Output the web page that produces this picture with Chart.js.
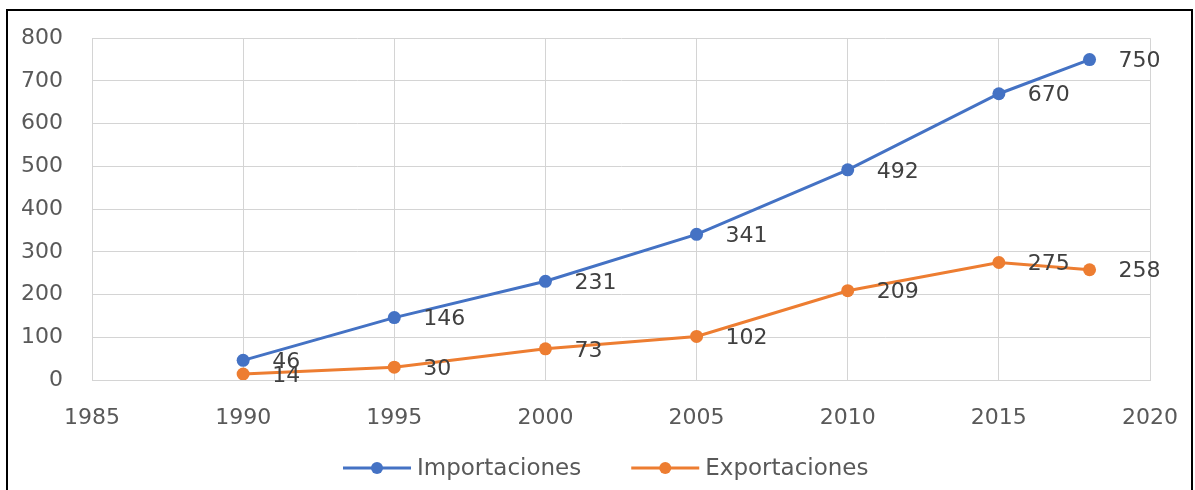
<!DOCTYPE html>
<html>
<head>
<meta charset="utf-8">
<script src="https://cdn.jsdelivr.net/npm/chart.js@4.4.1/dist/chart.umd.min.js"></script>
<style>
  html, body { margin: 0; padding: 0; background: #fff; }
  #wrap { position: relative; width: 1195px; height: 490px; overflow: hidden; background: #fff; }
  #frame {
    position: absolute; left: 6px; top: 9px; width: 1187px; height: 500px;
    border: 2px solid #000; box-sizing: border-box; pointer-events: none;
  }
  /* canvas is a little larger than the page; the overflow is clipped */
  #myChart { position: absolute; left: 0; top: -4px; }
</style>
</head>
<body>
<div id="wrap">
  <canvas id="myChart" width="1203" height="494"></canvas>
  <div id="frame"></div>
</div>
<script>
const years = [1990, 1995, 2000, 2005, 2010, 2015, 2018];
const importaciones = [46, 146, 231, 341, 492, 670, 750];
const exportaciones = [14, 30, 73, 102, 209, 275, 258];
const seriesNames = ["Importaciones", "Exportaciones"];
const seriesColors = ["#4472C4", "#ED7D31"];

const xMin = 1985, xMax = 2020, xStep = 5;
const yMin = 0, yMax = 800, yStep = 100;

const FONT = "'DejaVu Sans', sans-serif";

function toPoints(values) {
  return years.map((y, i) => ({ x: y, y: values[i] }));
}

// value labels to the right of each marker, plus the line/marker legend below
const labelsPlugin = {
  id: "valueLabels",
  afterDatasetsDraw(chart) {
    const ctx = chart.ctx;
    ctx.save();
    ctx.font = "22px " + FONT;
    ctx.fillStyle = "#404040";
    ctx.textAlign = "left";
    ctx.textBaseline = "middle";
    chart.data.datasets.forEach((ds, di) => {
      const meta = chart.getDatasetMeta(di);
      meta.data.forEach((pt, i) => {
        ctx.fillText(String(ds.data[i].y), pt.x + 29, pt.y + 2);
      });
    });
    ctx.restore();
  },
  afterDraw(chart) {
    const ctx = chart.ctx;
    ctx.save();
    ctx.font = "23px " + FONT;
    const lineLen = 68, gapText = 6, gapItem = 50;
    let x = 343;
    const y = 472;
    seriesNames.forEach((name, i) => {
      ctx.strokeStyle = seriesColors[i];
      ctx.lineWidth = 3;
      ctx.beginPath();
      ctx.moveTo(x, y);
      ctx.lineTo(x + lineLen, y);
      ctx.stroke();
      ctx.fillStyle = seriesColors[i];
      ctx.beginPath();
      ctx.arc(x + lineLen / 2, y, 6, 0, Math.PI * 2);
      ctx.fill();
      ctx.fillStyle = "#595959";
      ctx.textAlign = "left";
      ctx.textBaseline = "middle";
      ctx.fillText(name, x + lineLen + gapText, y + 1);
      x += lineLen + gapText + ctx.measureText(name).width + gapItem;
    });
    ctx.restore();
  },
};

function createChart() {
  const ctx = document.getElementById("myChart").getContext("2d");
  new Chart(ctx, {
    type: "line",
    data: {
      datasets: [
        {
          label: seriesNames[0],
          data: toPoints(importaciones),
          borderColor: seriesColors[0],
          backgroundColor: seriesColors[0],
          borderWidth: 3,
          pointRadius: 6.5,
          pointBorderWidth: 0,
          tension: 0,
        },
        {
          label: seriesNames[1],
          data: toPoints(exportaciones),
          borderColor: seriesColors[1],
          backgroundColor: seriesColors[1],
          borderWidth: 3,
          pointRadius: 6.5,
          pointBorderWidth: 0,
          tension: 0,
        },
      ],
    },
    options: {
      responsive: false,
      animation: false,
      layout: { padding: 0 },
      plugins: {
        legend: { display: false },
        tooltip: { enabled: false },
      },
      scales: {
        x: {
          type: "linear",
          min: xMin,
          max: xMax,
          afterFit(scale) { scale.height = 110; },
          ticks: {
            stepSize: xStep,
            padding: 25,
            color: "#595959",
            font: { family: FONT, size: 22 },
            callback: (v) => String(v),
          },
          grid: { color: "#d4d4d4", lineWidth: 1, drawTicks: false },
          border: { color: "#d4d4d4", width: 1 },
        },
        y: {
          min: yMin,
          max: yMax,
          afterFit(scale) { scale.width = 92; },
          ticks: {
            stepSize: yStep,
            padding: 29,
            color: "#595959",
            font: { family: FONT, size: 22 },
          },
          grid: { color: "#d4d4d4", lineWidth: 1, drawTicks: false },
          border: { color: "#d4d4d4", width: 1 },
        },
      },
    },
    plugins: [labelsPlugin],
  });
}

createChart();
</script>
</body>
</html>
